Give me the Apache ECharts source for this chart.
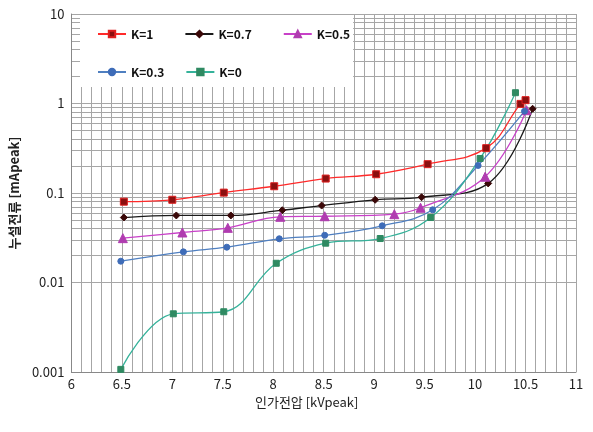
<!DOCTYPE html>
<html><head><meta charset="utf-8">
<script src="https://cdn.jsdelivr.net/npm/echarts@6/dist/echarts.min.js"></script>
<style>html,body{margin:0;padding:0;background:#fff}#c{width:593px;height:432px}</style>
</head><body><div id="c"></div>
<script>
const seriesNames = ['K=1', 'K=0.7', 'K=0.5', 'K=0.3', 'K=0'];
const voltK1 = [6.52, 7.0, 7.51, 8.01, 8.52, 9.02, 9.53, 10.11, 10.45, 10.5];
const currK1 = [0.080, 0.084, 0.101, 0.119, 0.145, 0.162, 0.21, 0.317, 0.99, 1.09];
const voltK07 = [6.52, 7.04, 7.58, 8.09, 8.48, 9.01, 9.47, 10.13, 10.57];
const currK07 = [0.0532, 0.0561, 0.0561, 0.0642, 0.0724, 0.084, 0.0897, 0.128, 0.873];
const voltK05 = [6.51, 7.1, 7.55, 8.07, 8.51, 9.2, 9.46, 10.1, 10.51];
const currK05 = [0.0313, 0.0362, 0.0408, 0.0542, 0.055, 0.058, 0.0684, 0.152, 0.842];
const voltK03 = [6.49, 7.11, 7.54, 8.06, 8.51, 9.08, 9.58, 10.03, 10.49];
const currK03 = [0.0173, 0.022, 0.0248, 0.0308, 0.0337, 0.043, 0.0649, 0.203, 0.82];
const voltK0 = [6.49, 7.01, 7.51, 8.03, 8.52, 9.06, 9.56, 10.05, 10.4];
const currK0 = [0.00107, 0.00447, 0.00471, 0.0164, 0.0275, 0.031, 0.0532, 0.243, 1.32];
const yTickLabels = ['0.001', '0.01', '0.1', '1', '10'];
const yMinorGrid = [0.002,0.003,0.004,0.005,0.006,0.007,0.008,0.009,
  0.02,0.03,0.04,0.05,0.06,0.07,0.08,0.09,
  0.2,0.3,0.4,0.5,0.6,0.7,0.8,0.9,
  2,3,4,5,6,7,8,9];

const pair = (xs, ys) => xs.map((x, i) => [x, ys[i]]);
const font = '"Noto Sans CJK KR", "Noto Sans", sans-serif';
const gridColor = '#a6a6a6';

const styles = [
  {line: '#ff2a2a', fill: '#8b1010', border: '#e02020', symbol: 'rect', size: 7},
  {line: '#1a1a1a', fill: '#3a0808', border: '#3a0808', symbol: 'diamond', size: 7},
  {line: '#c840c8', fill: '#b03cb0', border: '#b03cb0', symbol: 'triangle', size: 9},
  {line: '#4f7fc0', fill: '#3e6cb8', border: '#3e6cb8', symbol: 'circle', size: 6},
  {line: '#35b29a', fill: '#2f8a62', border: '#2f8a62', symbol: 'rect', size: 6}
];
const datasets = [pair(voltK1, currK1), pair(voltK07, currK07), pair(voltK05, currK05), pair(voltK03, currK03), pair(voltK0, currK0)];

const series = [{
  type: 'line', data: [], z: 0, zlevel: 0, silent: true, name: 'grid',
  markLine: {
    silent: true, symbol: ['none', 'none'], label: {show: false}, z: 0,
    lineStyle: {color: gridColor, type: 'solid', width: 1},
    animation: false,
    data: yMinorGrid.map(v => ({yAxis: v}))
  }
}].concat(seriesNames.map((n, i) => ({
  type: 'line', name: n, data: datasets[i], smooth: 0.4, z: 3,
  symbol: styles[i].symbol, symbolSize: styles[i].size,
  lineStyle: {color: styles[i].line, width: 1.3},
  itemStyle: {color: styles[i].fill, borderColor: styles[i].border, borderWidth: 1},
  animation: false
})));

const legendText = {fontFamily: font, fontSize: 12, fontWeight: 'bold', color: '#111'};

const chart = echarts.init(document.getElementById('c'));
chart.setOption({
  backgroundColor: '#fff',
  animation: false,
  grid: {left: 63, right: 17, top: 14, bottom: 60},
  legend: [
    {left: 80, top: 15, padding: [13, 3, 47, 17], backgroundColor: '#fff', z: 10,
     itemWidth: 28, itemHeight: 8, itemGap: 31, textStyle: legendText,
     data: seriesNames.slice(0, 3)},
    {left: 92, top: 61, z: 11,
     itemWidth: 28, itemHeight: 8, itemGap: 21, textStyle: legendText,
     data: seriesNames.slice(3)}
  ],
  xAxis: {
    type: 'value', min: 6, max: 11, interval: 0.5,
    name: '인가전압 [kVpeak]', nameLocation: 'middle', nameGap: 20,
    nameTextStyle: {fontFamily: font, fontSize: 13, color: '#222', padding: [0, 34, 0, 0]},
    axisLine: {show: true, lineStyle: {color: '#888'}},
    axisTick: {show: false},
    axisLabel: {fontFamily: font, fontSize: 13, color: '#222', margin: 6},
    splitLine: {show: true, lineStyle: {color: gridColor, width: 1}},
    minorTick: {show: false, splitNumber: 5},
    minorSplitLine: {show: true, lineStyle: {color: gridColor, width: 1}}
  },
  yAxis: {
    type: 'log', logBase: 10, min: 0.001, max: 10,
    name: '누설전류 [mApeak]', nameLocation: 'middle', nameGap: 46,
    nameTextStyle: {fontFamily: font, fontSize: 13, color: '#222', fontWeight: 'bold'},
    axisLine: {show: true, lineStyle: {color: '#888'}},
    axisTick: {show: false},
    axisLabel: {fontFamily: font, fontSize: 13, color: '#222', margin: 7,
      formatter: v => { const i = Math.round(Math.log10(v)) + 3; return yTickLabels[i] !== undefined ? yTickLabels[i] : ''; }},
    splitLine: {show: true, lineStyle: {color: gridColor, width: 1}}
  },
  series: series
});
</script></body></html>
